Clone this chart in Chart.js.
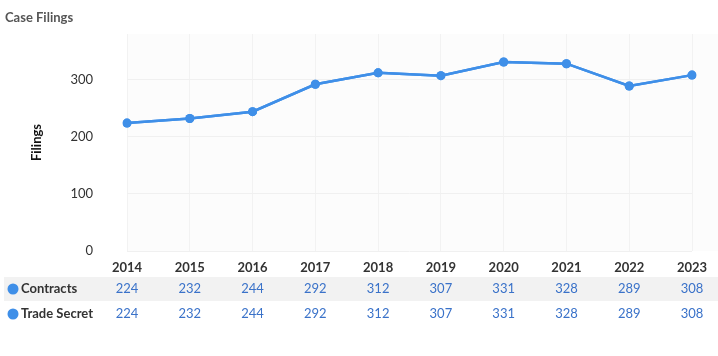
<!DOCTYPE html>
<html>
<head>
<meta charset="utf-8">
<script src="https://cdn.jsdelivr.net/npm/chart.js@4"></script>
<style>
html,body{margin:0;padding:0;background:#fff;}
#wrap{width:718px;height:356px;position:relative;}
</style>
</head>
<body>
<div id="wrap"><canvas id="c" width="718" height="356"></canvas></div>
<script>
const title = "Case Filings";
const yTitle = "Filings";
const categories = ["2014","2015","2016","2017","2018","2019","2020","2021","2022","2023"];
const contracts = [224,232,244,292,312,307,331,328,289,308];
const tradeSecret = [224,232,244,292,312,307,331,328,289,308];
const seriesNames = ["Contracts","Trade Secret"];
const yTicks = [0,100,200,300];

const FONT = "Lato, 'Open Sans', sans-serif";
const LINE = "#3f8fe8";

const tablePlugin = {
  id: 'tablePlugin',
  beforeDraw(chart) {
    const {ctx, chartArea} = chart;
    ctx.save();
    ctx.fillStyle = '#fcfcfc';
    ctx.fillRect(chartArea.left, chartArea.top, chartArea.right - chartArea.left + 26, chartArea.bottom - chartArea.top);
    ctx.restore();
  },
  afterDraw(chart) {
    const {ctx} = chart;
    const xs = chart.scales.x;
    ctx.save();
    ctx.font = "bold 13px " + FONT;
    ctx.fillStyle = '#555';
    ctx.textBaseline = 'middle';
    ctx.textAlign = 'left';
    ctx.fillText(title, 5, 18);
    const rows = [contracts, tradeSecret];
    const rowY = [289, 314];
    ctx.fillStyle = '#f2f2f2';
    ctx.fillRect(4, 277, 714, 24);
    rows.forEach((vals, r) => {
      const y = rowY[r];
      ctx.fillStyle = LINE;
      ctx.beginPath();
      ctx.arc(13, y, 5.5, 0, Math.PI * 2);
      ctx.fill();
      ctx.font = "bold 13px " + FONT;
      ctx.fillStyle = '#333';
      ctx.textAlign = 'left';
      ctx.fillText(seriesNames[r], 21, y);
      ctx.font = "13px " + FONT;
      ctx.fillStyle = '#3a72c9';
      ctx.textAlign = 'center';
      vals.forEach((v, i) => {
        ctx.fillText(String(v), xs.getPixelForValue(i), y);
      });
    });
    ctx.restore();
  }
};

new Chart(document.getElementById('c'), {
  type: 'line',
  data: {
    labels: categories,
    datasets: [
      {label: seriesNames[0], data: contracts, borderColor: LINE, backgroundColor: LINE, borderWidth: 2.5, pointRadius: 4.5, pointBackgroundColor: LINE, pointBorderWidth: 0, tension: 0},
      {label: seriesNames[1], data: tradeSecret, borderColor: LINE, backgroundColor: LINE, borderWidth: 2.5, pointRadius: 4.5, pointBackgroundColor: LINE, pointBorderWidth: 0, tension: 0}
    ]
  },
  options: {
    responsive: false,
    animation: false,
    devicePixelRatio: 1,
    layout: {padding: {left: 0, right: 26, top: 34, bottom: 80}},
    plugins: {legend: {display: false}, title: {display: false}, tooltip: {enabled: false}},
    scales: {
      x: {
        offset: false,
        grid: {color: '#f2f2f2', drawTicks: false},
        border: {display: false},
        ticks: {padding: 9, color: '#333', font: {family: FONT, size: 13, weight: 'bold'}, maxRotation: 0},
        afterFit(s) { s.height = 25; }
      },
      y: {
        min: 0, max: 380,
        afterBuildTicks(s) { s.ticks = yTicks.map(v => ({value: v})); },
        grid: {color: '#f0f0f0', drawTicks: false},
        border: {display: false},
        ticks: {padding: 34, color: '#333', font: {family: FONT, size: 13}},
        title: {display: true, text: yTitle, color: '#111', font: {family: FONT, size: 13, weight: 'bold'}, padding: {top: 29, bottom: 0}},
        afterFit(s) { s.width = 127; s.paddingTop = 8; s.paddingBottom = 8; }
      }
    }
  },
  plugins: [tablePlugin]
});
</script>
</body>
</html>
